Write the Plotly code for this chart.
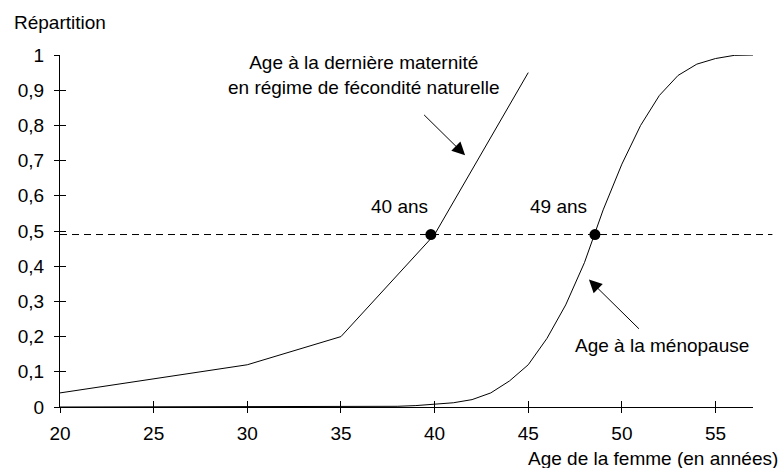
import plotly.graph_objects as go

# ---- data ----
ages_mat = [20, 25, 30, 35, 40, 45]
rep_mat = [0.04, 0.08, 0.12, 0.20, 0.49, 0.95]

ages_meno = list(range(20, 58))
rep_meno = [0, 0, 0, 0, 0, 0, 0, 0, 0, 0, 0, 0, 0, 0, 0, 0, 0,
            0.001, 0.002, 0.004, 0.008, 0.012, 0.021, 0.04, 0.074, 0.12,
            0.195, 0.29, 0.41, 0.56, 0.69, 0.80, 0.885, 0.942, 0.974, 0.99,
            0.999, 1.0]

median_x = [39.8, 48.56]
median_y = [0.49, 0.49]
median_labels = ["40 ans", "49 ans"]

x_ticks = [20, 25, 30, 35, 40, 45, 50, 55]
y_ticks = [0, 0.1, 0.2, 0.3, 0.4, 0.5, 0.6, 0.7, 0.8, 0.9, 1]
y_ticktext = ["0", "0,1", "0,2", "0,3", "0,4", "0,5", "0,6", "0,7", "0,8", "0,9", "1"]

FONT = "Liberation Sans, Arial, sans-serif"
FS = 19

fig = go.Figure()
fig.add_trace(go.Scatter(x=ages_mat, y=rep_mat, mode="lines",
                         line=dict(color="black", width=1), showlegend=False))
fig.add_trace(go.Scatter(x=ages_meno, y=rep_meno, mode="lines",
                         line=dict(color="black", width=1), showlegend=False))
fig.add_trace(go.Scatter(x=median_x, y=median_y, mode="markers",
                         marker=dict(color="black", size=11, symbol="circle"),
                         showlegend=False, cliponaxis=False))
# invisible trace for the overlay axes (inside ticks)
fig.add_trace(go.Scatter(x=[20], y=[0], xaxis="x2", yaxis="y2", mode="markers",
                         marker=dict(opacity=0), showlegend=False, hoverinfo="skip"))

fig.add_shape(type="line", xref="paper", yref="y", x0=0, x1=1.028, y0=0.49, y1=0.49,
              line=dict(color="black", width=1, dash="7px,5px"))

ann_font = dict(family=FONT, size=FS, color="black")
fig.add_annotation(x=38.1, y=0.571, text=median_labels[0], showarrow=False, font=ann_font)
fig.add_annotation(x=46.64, y=0.571, text=median_labels[1], showarrow=False, font=ann_font)
fig.add_annotation(x=36.2, y=0.942, text="Age à la dernière maternité<br>en régime de fécondité naturelle",
                   showarrow=False, font=ann_font, align="center")
fig.add_annotation(x=52.15, y=0.176, text="Age à la ménopause", showarrow=False, font=ann_font)
# arrows
fig.add_annotation(x=41.63, y=0.715, ax=39.36, ay=0.834, axref="x", ayref="y",
                   text="", showarrow=True, arrowhead=2, arrowsize=2.6, arrowwidth=1,
                   arrowcolor="black")
fig.add_annotation(x=48.24, y=0.362, ax=50.99, ay=0.218, axref="x", ayref="y",
                   text="", showarrow=True, arrowhead=2, arrowsize=2.6, arrowwidth=1,
                   arrowcolor="black")
# axis titles
fig.add_annotation(xref="paper", yref="paper", x=-0.0695, y=1.091,
                   xanchor="left", yanchor="middle",
                   text="Répartition", showarrow=False, font=ann_font)
fig.add_annotation(xref="paper", yref="paper", x=1.039, y=-0.145,
                   xanchor="right", yanchor="middle",
                   text="Age de la femme (en années)", showarrow=False, font=ann_font)

axis_common = dict(showgrid=False, zeroline=False, linecolor="black", linewidth=1,
                   tickcolor="black", ticklen=5, tickwidth=1,
                   tickfont=dict(family=FONT, size=FS, color="black"))

fig.update_layout(
    width=782, height=468,
    margin=dict(l=60, r=29, t=55, b=61),
    plot_bgcolor="white", paper_bgcolor="white",
    xaxis=dict(range=[20, 57], tickvals=x_ticks, ticks="outside", showline=True,
               ticklabelstandoff=4, **axis_common),
    yaxis=dict(range=[0, 1], tickvals=y_ticks, ticktext=y_ticktext, ticks="outside",
               showline=True, ticklabelstandoff=6, **axis_common),
    xaxis2=dict(range=[20, 57], tickvals=x_ticks, ticks="inside", overlaying="x",
                showticklabels=False, showline=False, showgrid=False, zeroline=False,
                tickcolor="black", ticklen=6, tickwidth=1),
    yaxis2=dict(range=[0, 1], tickvals=y_ticks, ticks="inside", overlaying="y",
                showticklabels=False, showline=False, showgrid=False, zeroline=False,
                tickcolor="black", ticklen=6, tickwidth=1),
)

fig.write_html("out.html", config={"displayModeBar": False},
               post_script="document.body.style.margin='0';")
